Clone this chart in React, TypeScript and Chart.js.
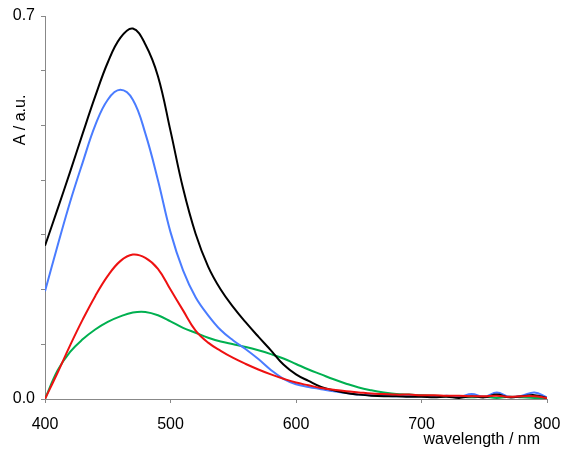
import React, { useEffect, useRef } from "react";
import { Chart, registerables } from "chart.js";

Chart.register(...registerables);

const wavelengths = [400,410,420,430,440,450,460,470,480,490,500,510,520,530,540,550,560,570,580,590,600,610,620,630,640,650,660,670,680,690,700,710,720,730,740,750,760,770,780,790,800];

const blackSeries = [0.280,0.347,0.415,0.485,0.553,0.615,0.660,0.677,0.648,0.590,0.490,0.385,0.302,0.242,0.200,0.168,0.140,0.114,0.089,0.063,0.045,0.033,0.022,0.016,0.011,0.008,0.006,0.005,0.005,0.004,0.004,0.003,0.004,0.002,0.005,0.003,0.008,0.003,0.005,0.007,0.002];
const blueSeries = [0.197,0.280,0.360,0.432,0.500,0.547,0.565,0.547,0.485,0.400,0.305,0.235,0.186,0.153,0.126,0.107,0.091,0.073,0.053,0.037,0.027,0.022,0.018,0.014,0.011,0.008,0.007,0.006,0.005,0.005,0.005,0.004,0.006,0.004,0.009,0.004,0.012,0.004,0.006,0.012,0.003];
const redSeries = [0.000,0.048,0.098,0.145,0.188,0.225,0.252,0.264,0.258,0.238,0.200,0.162,0.125,0.103,0.088,0.075,0.064,0.054,0.045,0.037,0.030,0.025,0.020,0.017,0.014,0.012,0.010,0.009,0.008,0.008,0.007,0.007,0.006,0.006,0.005,0.005,0.006,0.004,0.005,0.005,0.002];
const greenSeries = [0.000,0.052,0.086,0.109,0.127,0.141,0.151,0.158,0.159,0.153,0.142,0.130,0.121,0.112,0.105,0.100,0.095,0.089,0.082,0.074,0.064,0.054,0.045,0.036,0.028,0.021,0.016,0.012,0.009,0.008,0.007,0.006,0.005,0.004,0.003,0.004,0.002,0.004,0.003,0.002,0.002];

const yTickLabels = ["0.0", "0.7"];
const xTitle = "wavelength / nm";
const yTitle = "A / a.u.";

const FONT = "'Liberation Sans', Arial, sans-serif";

const toPoints = (vals: number[]) => wavelengths.map((w, i) => ({ x: w, y: vals[i] }));

export default function App() {
  const ref = useRef<HTMLCanvasElement | null>(null);

  useEffect(() => {
    document.body.style.margin = "0";
    const canvas = ref.current;
    if (!canvas) return;

    const titlePlugin = {
      id: "axisTitles",
      afterDraw(chart: any) {
        const ctx = chart.ctx;
        ctx.save();
        ctx.fillStyle = "#000";
        ctx.font = `16px ${FONT}`;
        ctx.textAlign = "right";
        ctx.textBaseline = "alphabetic";
        ctx.fillText(xTitle, 540, 444);
        ctx.translate(21, 120);
        ctx.rotate(-Math.PI / 2);
        ctx.textAlign = "center";
        ctx.textBaseline = "middle";
        ctx.fillText(yTitle, 0, 0);
        ctx.restore();
      },
    };

    const mk = (label: string, vals: number[], color: string, order: number) => ({
      label,
      data: toPoints(vals),
      borderColor: color,
      backgroundColor: color,
      borderWidth: 2,
      pointRadius: 0,
      fill: false,
      tension: 0.4,
      order,
    });

    const chart = new Chart(canvas, {
      type: "line",
      data: {
        datasets: [
          mk("red", redSeries, "#ee1111", 0),
          mk("black", blackSeries, "#000000", 1),
          mk("blue", blueSeries, "#4a7cff", 2),
          mk("green", greenSeries, "#00b050", 3),
        ],
      },
      options: {
        animation: false,
        responsive: false,
        maintainAspectRatio: false,
        layout: { padding: { left: 0, right: 19, top: 16, bottom: 0 } },
        plugins: { legend: { display: false }, tooltip: { enabled: false } },
        scales: {
          x: {
            type: "linear",
            min: 400,
            max: 800,
            afterFit: (s: any) => { s.height = 51; s.paddingLeft = 0; s.paddingRight = 0; },
            border: { display: true, color: "#888888", width: 1 },
            grid: { drawOnChartArea: false, drawTicks: true, tickLength: 4, color: "#888888" },
            ticks: {
              stepSize: 100,
              color: "#000",
              padding: 12,
              font: { family: FONT, size: 16 },
              maxRotation: 0,
            },
          },
          y: {
            type: "linear",
            min: 0,
            max: 0.7,
            afterFit: (s: any) => { s.width = 45; s.paddingTop = 0; s.paddingBottom = 0; },
            border: { display: true, color: "#888888", width: 1 },
            grid: { drawOnChartArea: false, drawTicks: true, tickLength: 4, color: "#888888" },
            ticks: {
              stepSize: 0.1,
              color: "#000",
              padding: 6,
              font: { family: FONT, size: 16 },
              callback: (v: any) => {
                const n = Number(v);
                if (Math.abs(n) < 1e-6) return yTickLabels[0];
                if (Math.abs(n - 0.7) < 1e-6) return yTickLabels[1];
                return "";
              },
            },
          },
        },
      },
      plugins: [titlePlugin],
    });
    return () => chart.destroy();
  }, []);

  return (
    <div style={{ width: 566, height: 450 }}>
      <canvas ref={ref} width={566} height={450} style={{ width: 566, height: 450, display: "block" }} />
    </div>
  );
}
